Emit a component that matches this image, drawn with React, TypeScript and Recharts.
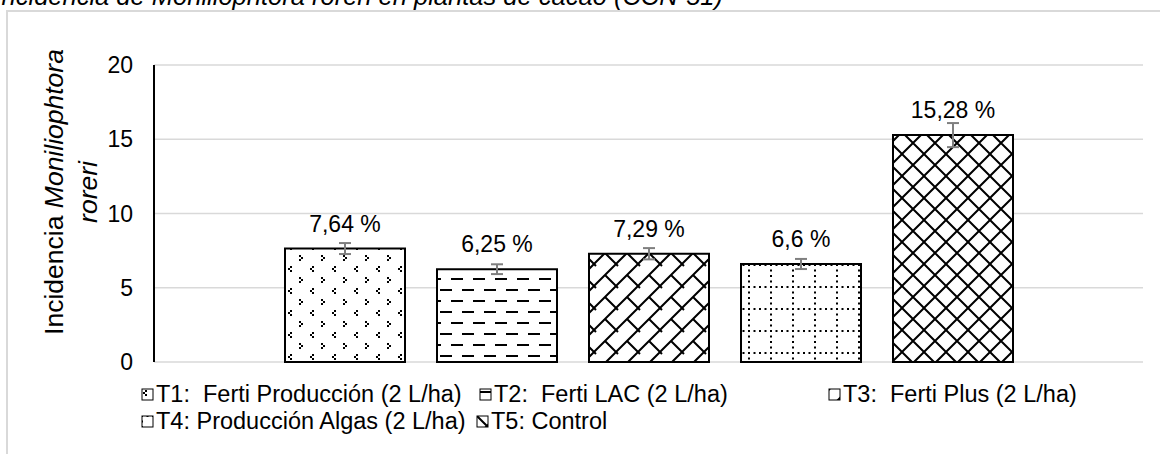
import { BarChart, Bar, XAxis, YAxis, CartesianGrid, LabelList, ErrorBar } from "recharts";

// treatments and their incidence values (%)
const seriesNames = [
  "T1:  Ferti Producción (2 L/ha)",
  "T2:  Ferti LAC (2 L/ha)",
  "T3:  Ferti Plus (2 L/ha)",
  "T4: Producción Algas (2 L/ha)",
  "T5: Control",
];
const incidence = [7.64, 6.25, 7.29, 6.6, 15.28];
const errors = [0.37, 0.33, 0.38, 0.34, 0.81];
const yTicks = [0, 5, 10, 15, 20];

const patternIds = ["pT1", "pT2", "pT3", "pT4", "pT5"];
const legendSlots = [
  [141, 0],
  [479, 0],
  [828, 0],
  [141, 27],
  [476, 27],
];

const row: any = { name: "" };
seriesNames.forEach((_, i) => {
  row["s" + i] = incidence[i];
  row["e" + i] = errors[i];
});
const data = [row];

const font = "'Liberation Sans', Arial, sans-serif";

const fmt = (v: any) => String(v).replace(".", ",") + " %";

export default function App() {
  return (
    <div
      style={{
        position: "absolute",
        left: 0,
        top: 0,
        width: 1160,
        height: 454,
        overflow: "hidden",
        background: "#fff",
        fontFamily: font,
      }}
    >
      <svg width={1160} height={454} style={{ position: "absolute", left: 0, top: 0 }}>
        <path d="M7 460 L7 11 L1170 11" fill="none" stroke="#d9d9d9" strokeWidth={2} />
        <text x={723} y={5} textAnchor="end" fontSize={25.5} fontStyle="italic" fontFamily={font} fill="#000">
          Incidencia de Moniliophtora roreri en plantas de cacao (CCN-51)
        </text>
        <text transform="translate(63,192) rotate(-90)" textAnchor="middle" fontSize={26.5} fontFamily={font} fill="#000">
          Incidencia <tspan fontStyle="italic">Moniliophtora</tspan>
        </text>
        <text transform="translate(97,192) rotate(-90)" textAnchor="middle" fontSize={26.5} fontStyle="italic" fontFamily={font} fill="#000">
          roreri
        </text>
      </svg>

      <div style={{ position: "absolute", left: 0, top: 0 }}>
        <BarChart
          width={1160}
          height={454}
          data={data}
          margin={{ top: 65, right: 17, bottom: 92, left: 94 }}
          barGap={32}
        >
          <defs>
            <pattern id="pT1" width={22} height={22} patternUnits="userSpaceOnUse">
              <rect width={22} height={22} fill="#fff" />
              <path
                d="M4 2h2v2h-2z M2 4h2v2h-2z M4 6h2v2h-2z M13 13h2v2h-2z M15 15h2v2h-2z M13 17h2v2h-2z"
                fill="#000"
              />
            </pattern>
            <pattern id="pT2" width={22} height={22} patternUnits="userSpaceOnUse">
              <rect width={22} height={22} fill="#fff" />
              <path d="M0 4H12 M11 15H23 M-11 15H1" stroke="#000" strokeWidth={2} />
            </pattern>
            <pattern id="pT3" width={22} height={22} patternUnits="userSpaceOnUse">
              <rect width={22} height={22} fill="#fff" />
              <path d="M-2 24 L24 -2 M11 11 L24 24 M-11 -11 L2 2" stroke="#000" strokeWidth={2} />
            </pattern>
            <pattern id="pT4" width={22} height={22} patternUnits="userSpaceOnUse">
              <rect width={22} height={22} fill="#fff" />
              <path d="M0 1H22 M1 0V22" stroke="#000" strokeWidth={2} strokeDasharray="2 3.5" />
            </pattern>
            <pattern id="pT5" width={22} height={22} patternUnits="userSpaceOnUse">
              <rect width={22} height={22} fill="#fff" />
              <path d="M-2 -2 L24 24 M24 -2 L-2 24" stroke="#000" strokeWidth={2} />
            </pattern>
          </defs>

          <CartesianGrid vertical={false} stroke="#d9d9d9" strokeWidth={1.5} />
          <XAxis
            dataKey="name"
            tick={false}
            tickLine={false}
            height={0}
            axisLine={{ stroke: "#000", strokeWidth: 2 }}
          />
          <YAxis
            domain={[0, 20]}
            ticks={yTicks}
            width={60}
            tickLine={false}
            tickSize={0}
            tickMargin={21}
            axisLine={{ stroke: "#000", strokeWidth: 2 }}
            tick={{ fontSize: 23, fill: "#000", fontFamily: font }}
          />

          {seriesNames.map((n, i) => (
            <Bar
              key={n}
              dataKey={"s" + i}
              name={n}
              barSize={120}
              fill={`url(#${patternIds[i]})`}
              stroke="#000"
              strokeWidth={2}
              isAnimationActive={false}
            >
              <ErrorBar dataKey={"e" + i} width={6} strokeWidth={2} stroke="#7f7f7f" direction="y" />
              <LabelList
                dataKey={"s" + i}
                position="top"
                offset={17}
                formatter={fmt}
                fontSize={23}
                fill="#000"
                fontFamily={font}
              />
            </Bar>
          ))}
        </BarChart>
      </div>

      <div style={{ position: "absolute", left: 0, top: 381, width: 1160, height: 60 }}>
        {seriesNames.map((n, i) => (
          <div
            key={n}
            style={{
              position: "absolute",
              left: legendSlots[i][0],
              top: legendSlots[i][1],
              display: "flex",
              alignItems: "center",
              whiteSpace: "pre",
              fontSize: 23.5,
              lineHeight: "27px",
              color: "#000",
            }}
          >
            <svg width={14} height={14} style={{ marginRight: 1 }}>
              <rect x={1} y={1} width={11} height={11} fill={`url(#${patternIds[i]})`} stroke="#000" strokeWidth={1} />
            </svg>
            {n}
          </div>
        ))}
      </div>
    </div>
  );
}
